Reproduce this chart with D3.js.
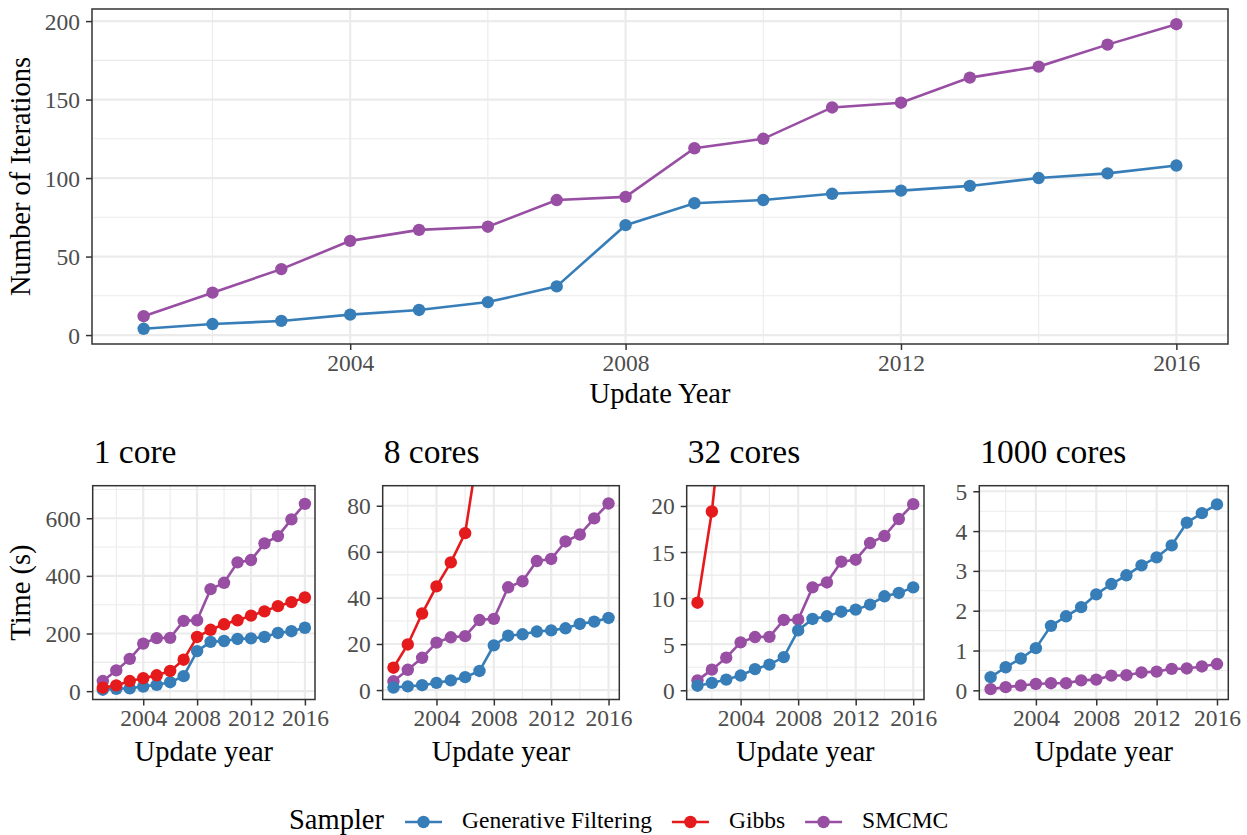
<!DOCTYPE html>
<html><head><meta charset="utf-8">
<script src="https://cdn.jsdelivr.net/npm/d3@7"></script>
<style>
body{margin:0;background:#fff}
svg{display:block}
text{font-family:"Liberation Serif","Times New Roman",serif}
</style>
</head><body>
<svg id="chart" width="1247" height="835"></svg>
<script>
// ---------------- DATA ----------------
const years = [2001,2002,2003,2004,2005,2006,2007,2008,2009,2010,2011,2012,2013,2014,2015,2016];
const samplers = ["Generative Filtering","Gibbs","SMCMC"];
const samplerColors = ["#377EB8","#E41A1C","#984EA3"];

// Top: number of iterations
const iterGF    = [4,7,9,13,16,21,31,70,84,86,90,92,95,100,103,108];
const iterSMCMC = [12,27,42,60,67,69,86,88,119,125,145,148,164,171,185,198];
const iterTicks = [0,50,100,150,200];
const iterLimits = [-5.7,207.7];

const yearTicks = [2004,2008,2012,2016];
const yearLimits = [2000.25,2016.75];

// Bottom: time (s)
const panelTitles = ["1 core","8 cores","32 cores","1000 cores"];

const time1GF     = [5,8,10,16,22,31,52,139,171,174,181,183,188,202,208,220];
const time1Gibbs  = [12,20,35,45,55,70,109,188,213,232,246,262,277,295,309,325];
const time1SMCMC  = [35,72,112,165,184,185,244,246,354,376,447,455,513,538,596,650];
const time1Ticks  = [0,200,400,600];
const time1Limits = [-29,713];

const time8GF     = [1.1,1.6,2.1,3.1,4.2,5.6,8.3,19.4,23.6,24.2,25.4,25.9,26.8,28.7,29.7,31.3];
const time8Gibbs  = [9.7,19.8,33.2,45,55.4,68.1,108,null,null,null,null,null,null,null,null,null];
const time8SMCMC  = [3.8,8.8,14.0,20.6,22.9,23.4,30.4,30.9,44.6,47.2,56.0,56.9,64.5,67.5,74.5,81.0];
const time8Ticks  = [0,20,40,60,80];
const time8Limits = [-4.1,88.7];

const time32GF     = [0.5,0.8,1.16,1.6,2.3,2.78,3.6,6.5,7.74,8.03,8.53,8.75,9.29,10.2,10.56,11.17];
const time32Gibbs  = [9.5,19.4,34,null,null,null,null,null,null,null,null,null,null,null,null,null];
const time32SMCMC  = [1.08,2.24,3.54,5.2,5.78,5.8,7.63,7.66,11.17,11.7,13.95,14.17,15.98,16.74,18.58,20.2];
const time32Ticks  = [0,5,10,15,20];
const time32Limits = [-1.0,22.2];

const time1000GF     = [0.33,0.58,0.80,1.06,1.62,1.86,2.09,2.41,2.67,2.89,3.14,3.34,3.64,4.21,4.45,4.67];
const time1000SMCMC  = [0.03,0.08,0.12,0.16,0.18,0.18,0.25,0.27,0.37,0.38,0.45,0.47,0.54,0.55,0.60,0.66];
const time1000Ticks  = [0,1,2,3,4,5];
const time1000Limits = [-0.23,5.14];

// ---------------- DRAWING ----------------
const svg = d3.select("#chart");
const GRID = "#ebebeb", BORDER = "#333333", TICKTXT = "#4d4d4d";
const TICK_FS = 23.5, TITLE_FS = 28.5;

function minorBreaks(ticks, domain){
  const step = ticks[1]-ticks[0];
  const out = [];
  for (let v = ticks[0]-step/2; v <= ticks[ticks.length-1]+step; v += step){
    if (v > domain[0] && v < domain[1]) out.push(v);
  }
  return out;
}

let clipId = 0;
function panel(box, cfg){
  const x = d3.scaleLinear().domain(yearLimits).range([box.l, box.r]);
  const y = d3.scaleLinear().domain(cfg.yLimits).range([box.b, box.t]);
  const g = svg.append("g");

  // minor grid
  g.selectAll(".mx").data(minorBreaks(yearTicks, yearLimits)).join("line")
    .attr("x1", d=>x(d)).attr("x2", d=>x(d)).attr("y1", box.t).attr("y2", box.b)
    .attr("stroke", GRID).attr("stroke-width", 1.1);
  g.selectAll(".my").data(minorBreaks(cfg.yTicks, cfg.yLimits)).join("line")
    .attr("y1", d=>y(d)).attr("y2", d=>y(d)).attr("x1", box.l).attr("x2", box.r)
    .attr("stroke", GRID).attr("stroke-width", 1.1);
  // major grid
  g.selectAll(".Mx").data(yearTicks).join("line")
    .attr("x1", d=>x(d)).attr("x2", d=>x(d)).attr("y1", box.t).attr("y2", box.b)
    .attr("stroke", GRID).attr("stroke-width", 2.2);
  g.selectAll(".My").data(cfg.yTicks).join("line")
    .attr("y1", d=>y(d)).attr("y2", d=>y(d)).attr("x1", box.l).attr("x2", box.r)
    .attr("stroke", GRID).attr("stroke-width", 2.2);

  // clip
  const id = "clip" + (clipId++);
  svg.append("clipPath").attr("id", id).append("rect")
    .attr("x", box.l).attr("y", box.t).attr("width", box.r-box.l).attr("height", box.b-box.t);
  const data = g.append("g").attr("clip-path", `url(#${id})`);

  const line = d3.line().defined(d=>d[1]!=null).x(d=>x(d[0])).y(d=>y(d[1]));
  cfg.series.forEach(s=>{
    const pts = years.map((yr,i)=>[yr, s.values[i]]);
    data.append("path").datum(pts).attr("d", line)
      .attr("fill","none").attr("stroke", s.color).attr("stroke-width", 2.6);
  });
  cfg.series.forEach(s=>{
    const pts = years.map((yr,i)=>[yr, s.values[i]]).filter(d=>d[1]!=null);
    data.selectAll(null).data(pts).join("circle")
      .attr("cx", d=>x(d[0])).attr("cy", d=>y(d[1])).attr("r", 6.2)
      .attr("fill", s.color);
  });

  // axes
  const ax = d3.axisBottom(x).tickValues(yearTicks).tickFormat(d3.format("d")).tickSize(6).tickPadding(4);
  const ay = d3.axisLeft(y).tickValues(cfg.yTicks).tickFormat(d=>String(d)).tickSize(6).tickPadding(6);
  const gx = g.append("g").attr("transform", `translate(0,${box.b})`).call(ax);
  const gy = g.append("g").attr("transform", `translate(${box.l},0)`).call(ay);
  [gx, gy].forEach(a=>{
    a.select(".domain").remove();
    a.selectAll(".tick line").attr("stroke", BORDER).attr("stroke-width", 1.5);
    a.selectAll(".tick text").attr("fill", TICKTXT).attr("font-size", TICK_FS)
      .attr("font-family", '"Liberation Serif",serif');
  });
  gx.selectAll(".tick text").attr("dy", "0.72em");
  gy.selectAll(".tick text").attr("dy", "0.34em");

  // border
  g.append("rect").attr("x", box.l).attr("y", box.t).attr("width", box.r-box.l).attr("height", box.b-box.t)
    .attr("fill","none").attr("stroke", BORDER).attr("stroke-width", 1.5);

  // x title
  g.append("text").attr("x", (box.l+box.r)/2).attr("y", cfg.xTitleY).attr("text-anchor","middle")
    .attr("font-size", TITLE_FS).attr("fill","#000").text(cfg.xTitle);
  if (cfg.yTitle){
    g.append("text").attr("transform", `translate(${cfg.yTitleX},${(box.t+box.b)/2}) rotate(-90)`)
      .attr("text-anchor","middle").attr("font-size", TITLE_FS).attr("fill","#000").text(cfg.yTitle);
  }
  if (cfg.title){
    g.append("text").attr("x", box.l+1).attr("y", cfg.titleY).attr("font-size", 33.5)
      .attr("fill","#000").text(cfg.title);
  }
}

// Top panel
panel({l:92, r:1228, t:9, b:344}, {
  yLimits: iterLimits, yTicks: iterTicks,
  series: [{values: iterSMCMC, color: samplerColors[2]}, {values: iterGF, color: samplerColors[0]}],
  xTitle: "Update Year", xTitleY: 403, yTitle: "Number of Iterations", yTitleX: 30
});

// Bottom panels
const bt = 485.7, bb = 699.5;
const bottomBoxes = [
  {l:92.7, r:315, t:bt, b:bb},
  {l:382.7, r:619.3, t:bt, b:bb},
  {l:686.7, r:924, t:bt, b:bb},
  {l:979.3, r:1228.3, t:bt, b:bb}
];
const bottomCfg = [
  {yLimits: time1Limits, yTicks: time1Ticks, gf: time1GF, gibbs: time1Gibbs, sm: time1SMCMC},
  {yLimits: time8Limits, yTicks: time8Ticks, gf: time8GF, gibbs: time8Gibbs, sm: time8SMCMC},
  {yLimits: time32Limits, yTicks: time32Ticks, gf: time32GF, gibbs: time32Gibbs, sm: time32SMCMC},
  {yLimits: time1000Limits, yTicks: time1000Ticks, gf: time1000GF, gibbs: null, sm: time1000SMCMC}
];
bottomCfg.forEach((c,i)=>{
  const series = [{values: c.sm, color: samplerColors[2]}, {values: c.gf, color: samplerColors[0]}];
  if (c.gibbs) series.push({values: c.gibbs, color: samplerColors[1]});
  panel(bottomBoxes[i], {
    yLimits: c.yLimits, yTicks: c.yTicks, series,
    xTitle: "Update year", xTitleY: 761,
    yTitle: i===0 ? "Time (s)" : null, yTitleX: 30,
    title: panelTitles[i], titleY: 463
  });
});

// Legend
const lg = svg.append("g");
const legY = 822;
lg.append("text").attr("x", 289).attr("y", legY+7).attr("font-size", TITLE_FS).attr("fill","#000").text("Sampler");
let lx = 405;
samplers.forEach((s,i)=>{
  lg.append("line").attr("x1", lx).attr("x2", lx+37).attr("y1", legY).attr("y2", legY)
    .attr("stroke", samplerColors[i]).attr("stroke-width", 2.6);
  lg.append("circle").attr("cx", lx+18.5).attr("cy", legY).attr("r", 6.2).attr("fill", samplerColors[i]);
  const t = lg.append("text").attr("x", lx+57).attr("y", legY+6).attr("font-size", 23.5).attr("fill","#000").text(s);
  lx = lx + 57 + t.node().getComputedTextLength() + 20;
});
</script>
</body></html>
